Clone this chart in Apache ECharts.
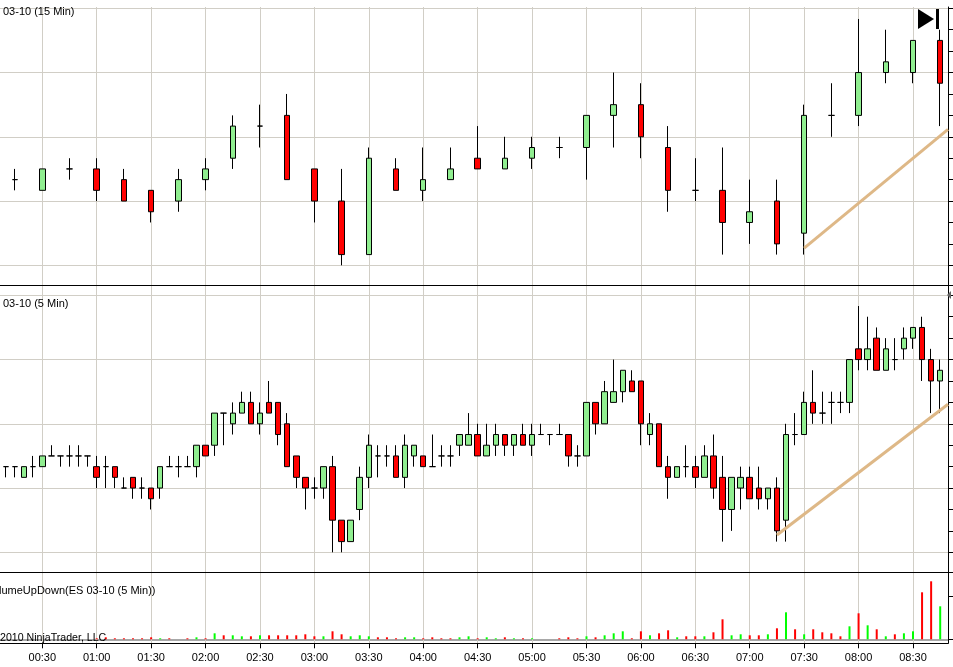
<!DOCTYPE html>
<html>
<head>
<meta charset="utf-8">
<style>html,body{margin:0;padding:0;background:#fff;overflow:hidden}#c{width:953px;height:667px}</style>
<script src="https://cdn.jsdelivr.net/npm/echarts@6/dist/echarts.min.js"></script>
</head>
<body>
<div id="c"></div>
<script>
// Prices are in exchange ticks above the lowest gridline. Times are minutes after 00:00.
const tickValues = [30,60,90,120,150,180,210,240,270,300,330,360,390,420,450,480,510];
const tickLabels = ['00:30','01:00','01:30','02:00','02:30','03:00','03:30','04:00','04:30','05:00','05:30','06:00','06:30','07:00','07:30','08:00','08:30'];

const times15 = [15,30,45,60,75,90,105,120,135,150,165,180,195,210,225,240,255,270,285,300,315,330,345,360,375,390,405,420,435,450,465,480,495,510,525];
const open15  = [8,7,9,9,8,7,6,8,10,13,14,9,6,1,9,7,8,10,9,10,11,11,14,15,11,7,7,4,6,3,14,14,18,18,21];
const close15 = [8,9,9,7,6,5,8,9,13,13,8,6,1,10,7,8,9,9,10,11,11,14,15,12,7,7,4,5,2,14,14,18,19,21,17];
const low15   = [7,7,8,6,6,4,5,7,9,11,8,4,0,1,7,6,8,9,9,9,10,8,11,10,5,6,1,2,1,1,12,13,17,17,13];
const high15  = [9,9,10,10,9,7,9,10,14,15,16,9,9,11,10,11,11,13,12,12,12,14,18,17,13,10,11,8,8,15,17,23,22,21,22];

const times5 = [5,10,15,20,25,30,35,40,45,50,55,60,65,70,75,80,85,90,95,100,105,110,115,120,125,130,135,140,145,150,155,160,165,170,175,180,185,190,195,200,205,210,215,220,225,230,235,240,245,250,255,260,265,270,275,280,285,290,295,300,305,310,315,320,325,330,335,340,345,350,355,360,365,370,375,380,385,390,395,400,405,410,415,420,425,430,435,440,445,450,455,460,465,470,475,480,485,490,495,500,505,510,515,520,525];
const open5 = [8,8,8,7,8, 8,9,9,9,9, 9,8,8,8,6, 7,6,6,6,8, 8,8,8,10,10, 13,12,13,14,12, 14,14,12,9,7, 6,6,8,3,1, 4,7,9,9,9, 7,9,9,8,9, 9,10,10,11,9, 10,11,10,11,10, 11,11,11,11,9, 9,14,12,14,15, 16,16,11,12,8, 7,8,8,7,9, 7,4,6,7,6, 5,6,3,11,11, 14,13,14,14,14, 19,18,20,17,18, 19,20,21,18,16];
const close5 = [9,8,8,8,8, 9,9,9,9,9, 9,7,8,7,6, 6,6,5,8,8, 8,8,10,9,13, 13,13,14,12,13, 13,11,8,7,6, 6,8,3,1,3, 7,10,9,9,7, 10,10,8,8,9, 9,11,11,9,10, 11,10,11,10,11, 11,11,11,9,9, 14,12,15,15,17, 15,12,12,8,7, 8,8,7,9,6, 4,7,7,5,5, 6,2,11,11,14, 13,13,14,14,18, 18,19,17,19,18, 20,21,18,16,17];
const low5 = [8,7,7,7,7, 8,9,8,8,8, 8,6,6,6,6, 5,5,4,5,8, 7,8,7,9,9, 10,11,13,12,11, 13,10,8,6,4, 5,5,0,0,1, 3,6,7,8,7, 6,8,8,8,8, 8,9,10,9,9, 9,9,9,10,9, 11,10,11,8,8, 9,11,12,14,14, 15,10,10,8,5, 7,7,6,7,5, 1,2,4,5,4, 4,1,1,10,11, 12,12,12,13,13, 17,17,17,17,17, 18,19,16,13,13];
const high5 = [9,8,8,8,9, 9,10,9,10,10, 9,9,9,8,7, 7,7,6,8,9, 9,9,10,10,13, 13,14,15,15,14, 16,14,13,9,7, 7,8,9,3,3, 8,11,10,10,10, 11,10,9,11,10, 10,11,13,12,12, 12,11,11,12,12, 12,11,12,11,10, 14,14,16,18,17, 17,16,13,12,9, 8,10,9,10,11, 9,7,8,8,8, 6,7,12,13,15, 17,15,15,15,18, 23,22,21,20,20, 21,21,22,19,18];

const volume = [0,0,0,0,0,0,0,0,0,0,0,
  30,60,30,30,30,30,60,30,30,0,30,60,30,180,
  120,120,90,90,120,120,120,120,120,150,90,90,
  240,150,90,120,90,60,60,30,60,60,30,60,30,30,60,90,
  30,60,30,60,30,30,30,0,0,30,60,30,90,60,120,180,240,30,
  240,120,180,270,60,90,90,90,210,600,120,150,120,120,150,330,810,300,150,300,210,180,90,390,780,420,300,90,150,180,240,1410,1740,990];
const volumeUp = [0,0,0,0,0,0,0,0,0,0,0,
  0,0,0,0,0,0,0,1,0,0,0,1,0,1,
  0,1,1,0,1,0,0,0,0,0,0,1,
  0,0,1,1,1,0,0,0,1,1,0,0,0,0,1,1,
  0,1,1,0,1,0,1,0,0,0,0,0,1,0,1,1,1,0,
  0,1,0,0,1,0,0,1,0,0,1,1,0,0,1,0,1,0,1,0,0,0,0,1,0,1,0,1,0,1,1,0,0,1];

const trend15 = [[450,1.6],[529.3,12.7]];
const trend5  = [[435,1.62],[529.3,13.83]];

const priceGrid  = [0,6,12,18,24];
const priceTicks = [0,2,4,6,8,10,12,14,16,18,20,22,24];

const GRID = '#d1cec6', BLACK = '#000', FONT = '"Liberation Sans", Arial, sans-serif';
const chart = echarts.init(document.getElementById('c'), null, {renderer:'canvas'});

const XMIN = 6.68, XMAX = 529.3, LEFT = 0, RIGHT_EDGE = 948;
const panels = [
  {top:7,     bottom:285.5, min:-1.886, max:24.12},
  {top:286,   bottom:572.5, min:-1.886, max:24.87},
  {top:572.5, bottom:643.3, min:-120,   max:2004}
];
const grids = panels.map(p => ({left:LEFT, width:RIGHT_EDGE-LEFT, top:p.top, height:p.bottom-p.top, containLabel:false, show:false}));
const xAxes = panels.map((p,i) => ({
  type:'value', gridIndex:i, min:XMIN, max:XMAX, position:'bottom', scale:true,
  axisLine:{show:true, onZero:false, lineStyle:{color:BLACK, width:1}},
  axisTick:{show:i===2, length:5, lineStyle:{color:BLACK}, customValues:tickValues},
  axisLabel:{show:i===2, customValues:tickValues, fontFamily:FONT, fontSize:11, color:BLACK, margin:9,
    formatter:v => tickLabels[tickValues.indexOf(v)] || ''},
  splitLine:{show:true, lineStyle:{color:GRID, width:1}}
}));
const yAxes = [];
panels.forEach((p,i) => {
  const split = i===2 ? [0] : priceGrid;
  const ticks = i===2 ? [0,1300] : priceTicks.concat(p.min);
  yAxes.push({type:'value', gridIndex:i, min:p.min, max:p.max, position:'left', scale:true,
    axisLine:{show:false}, axisLabel:{show:false},
    axisTick:{show:false, customValues:split},
    splitLine:{show:true, lineStyle:{color:i===2?'#a8a8a8':GRID, width:i===2?2:1}}});
  yAxes.push({type:'value', gridIndex:i, min:p.min, max:p.max, position:'right', scale:true,
    axisLine:{show:true, onZero:false, lineStyle:{color:BLACK, width:1}}, axisLabel:{show:false},
    axisTick:{show:true, length:5, inside:false, lineStyle:{color:BLACK}, customValues:ticks},
    splitLine:{show:false}});
});

const candleStyle = {color:'#90ee90', color0:'#ff0000', borderColor:BLACK, borderColor0:BLACK, borderColorDoji:BLACK, borderWidth:1};
function candleSeries(xi, yi, t, o, c, l, h){
  return {type:'candlestick', xAxisIndex:xi, yAxisIndex:yi, layout:'horizontal', barWidth:6, silent:true, clip:false, itemStyle:candleStyle, z:3,
    data:t.map((v,k)=>[v,o[k],c[k],l[k],h[k]])};
}
function trendSeries(xi, yi, d){
  return {type:'line', xAxisIndex:xi, yAxisIndex:yi, data:d, showSymbol:false, silent:true, z:4,
    lineStyle:{color:'#deb887', width:3}};
}
const txt = (x,y,s,size) => ({type:'text', x, y, z:10, silent:true, style:{text:s, fill:BLACK, font:(size||11)+'px '+FONT, textAlign:'left', textVerticalAlign:'middle'}});

chart.setOption({
  animation:false, backgroundColor:'#fff',
  grid:grids, xAxis:xAxes, yAxis:yAxes,
  series:[
    candleSeries(0,0,times15,open15,close15,low15,high15),
    trendSeries(0,0,trend15),
    candleSeries(1,2,times5,open5,close5,low5,high5),
    trendSeries(1,2,trend5),
    {type:'bar', xAxisIndex:2, yAxisIndex:4, barWidth:2, silent:true, z:3,
     data:times5.map((t,k)=>({value:[t,volume[k]], itemStyle:{color:volumeUp[k]?'#00ff00':'#ff0000'}}))}
  ],
  graphic:[
    txt(3,12,'03-10 (15 Min)'),
    txt(3,304,'03-10 (5 Min)'),
    txt(-1,591,'lumeUpDown(ES 03-10 (5 Min))'),
    txt(0,638,'2010 NinjaTrader, LLC',10.6),
    {type:'polygon', z:10, silent:true, shape:{points:[[918,9],[934,19],[918,29]]}, style:{fill:'#000'}},
    {type:'rect', z:10, silent:true, shape:{x:936,y:9,width:3,height:20}, style:{fill:'#000'}},
    {type:'polygon', z:10, silent:true, shape:{points:[[947,295],[951,291],[951,299]]}, style:{fill:'#666'}}
  ]
});
</script>
</body>
</html>
